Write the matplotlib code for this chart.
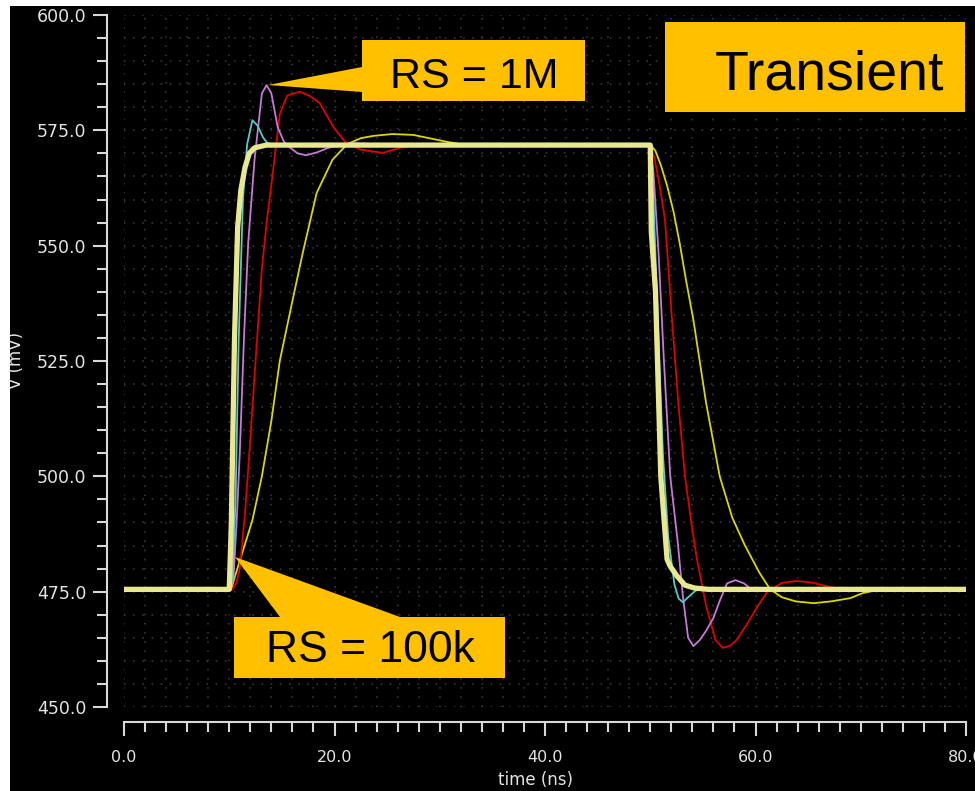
import matplotlib
matplotlib.use('Agg')
import matplotlib.pyplot as plt
from matplotlib.patches import Polygon, Rectangle
from matplotlib.ticker import MultipleLocator, FormatStrFormatter

# ideal / thick trace
t_ideal = [0, 10.0, 10.2, 10.5, 10.8, 11.1, 11.5, 11.9, 12.4, 13.5, 50.0, 50.1, 50.5, 51.0,
           51.6, 51.9, 52.5, 53.3, 54.2, 55.5, 80]
v_ideal = [475.5, 475.5, 490, 530, 554, 562, 567, 570, 571.2, 571.8, 571.8, 553, 540, 500,
           482, 480.5, 478.5, 476.4, 475.8, 475.5, 475.5]

# cyan
t_cyan = [0, 10.0, 10.3, 10.6, 10.9, 11.3, 11.7, 12.2, 12.7, 13.2, 13.6, 14.5, 15.5, 50.0,
          50.3, 50.7, 51.2, 51.7, 52.3, 52.7, 53.1, 53.6, 54.3, 55.2, 56.5, 80]
v_cyan = [475.5, 475.5, 478, 495, 530, 560, 572, 577.2, 576, 573.5, 572.3, 571.7, 572, 572,
          560, 535, 505, 487, 476.5, 473.5, 472.7, 473.8, 475.2, 475.8, 475.5, 475.5]

# magenta
t_mag = [0, 10.1, 10.4, 10.7, 11.0, 11.4, 11.8, 12.4, 13.1, 13.55, 14.0, 14.6, 15.2, 15.7,
         16.5, 17.3, 18.3, 19.4, 20.5, 22, 24, 50.0, 50.3, 50.8, 51.3, 51.9, 52.6, 53.1,
         53.6, 54.1, 54.7, 55.3, 56.0, 56.6, 57.3, 58.1, 58.9, 59.5, 60.5, 62, 80]
v_mag = [475.5, 475.5, 478, 490, 505, 530, 550.6, 568.6, 583, 584.8, 583, 575.7, 572.5, 571.4,
         570, 569.6, 570.2, 571.2, 571.9, 572.2, 572, 572, 566, 548, 525, 500, 486, 474,
         465, 463.2, 464.5, 466.5, 469.3, 473, 476.8, 477.5, 476.8, 475.7, 475.3, 475.5, 475.5]

# red
t_red = [0, 10.3, 10.7, 11.0, 11.5, 12.0, 12.5, 13.1, 13.6, 14.1, 14.8, 15.5, 16.7, 17.6,
         18.6, 19.9, 21.0, 22.5, 24.6, 26.2, 27.5, 50.0, 50.4, 50.9, 51.4, 52.07, 52.7, 53.3,
         53.9, 54.4, 55.3, 56.2, 56.9, 57.6, 58.2, 59.2, 60.2, 61.1, 62.5, 63.9, 65.3, 67.1,
         68.5, 80]
v_red = [475.5, 475.5, 477, 480, 492, 508, 525, 545, 556, 565, 578.5, 582.5, 583.4, 582.5,
         580.9, 575.7, 572.5, 570.8, 570.1, 571.2, 571.8, 572, 569, 563, 555.6, 533.9, 515, 500,
         490, 482.5, 472, 464.5, 462.8, 463.3, 464.5, 468, 471.8, 474.9, 476.9, 477.3, 477, 476,
         475.5, 475.5]

# yellow (slowest)
t_yel = [0, 10.2, 10.5, 12.2, 13.1, 14.0, 14.8, 16.0, 17.0, 18.3, 19.8, 21.2, 22.5, 23.7,
         25.5, 27.5, 29.0, 30.7, 32.0, 50.0, 50.5, 51.0, 51.6, 52.2, 52.8, 53.4, 54.1, 55.3,
         56.6, 57.8, 59.0, 60.4, 61.4, 62.5, 63.8, 65.5, 67.2, 69.0, 70.2, 71.7, 80]
v_yel = [475.5, 475.5, 478, 490.5, 500, 512, 525, 538, 548.6, 561.4, 568.6, 572, 573.3, 573.8,
         574.2, 574, 573.3, 572.5, 572, 572, 570.5, 567.5, 563, 557.5, 550.5, 542.5, 533.9, 516,
         500, 491, 485, 479, 475.5, 473.8, 472.9, 472.5, 472.9, 473.6, 474.7, 475.4, 475.5]

x_ticks = [0, 20, 40, 60, 80]
y_ticks = [450, 475, 500, 525, 550, 575, 600]

W, H = 975, 791
fig = plt.figure(figsize=(W / 100, H / 100), dpi=100, facecolor='black')
ax = fig.add_axes([124 / W, 1 - 707 / H, (966 - 124) / W, (707 - 15) / H])
ax.set_facecolor('black')

ax.plot(t_yel, v_yel, color='#d8d800', lw=1.3, zorder=3)
ax.plot(t_red, v_red, color='#e00000', lw=1.3, zorder=3)
ax.plot(t_mag, v_mag, color='#c878d8', lw=1.3, zorder=3)
ax.plot(t_cyan, v_cyan, color='#5cc8c8', lw=1.3, zorder=3)
ax.plot(t_ideal, v_ideal, color='#e8e890', lw=3.8, zorder=4)

ax.set_xlim(0, 80)
ax.set_ylim(450, 600)
ax.set_xticks(x_ticks)
ax.set_yticks(y_ticks)
ax.xaxis.set_minor_locator(MultipleLocator(2))
ax.yaxis.set_minor_locator(MultipleLocator(5))
ax.xaxis.set_major_formatter(FormatStrFormatter('%.1f'))
ax.yaxis.set_major_formatter(FormatStrFormatter('%.1f'))

ax.grid(which='both', color='#3e3e3e', linestyle=(0, (1, 5)), lw=1.1, zorder=1)

for s in ['top', 'right']:
    ax.spines[s].set_visible(False)
ax.spines['left'].set_position(('outward', 12))
ax.spines['bottom'].set_position(('outward', 11))
for s in ['left', 'bottom']:
    ax.spines[s].set_color('#d8d8d8')
    ax.spines[s].set_linewidth(1.5)

ax.tick_params(axis='y', which='major', length=10, width=1.5, color='#d8d8d8',
               labelcolor='#e4e4e4', labelsize=12.5, pad=5)
ax.tick_params(axis='y', which='minor', length=7, width=1.5, color='#d8d8d8')
ax.tick_params(axis='x', which='major', length=10, width=1.5, color='#d8d8d8',
               labelcolor='#e4e4e4', labelsize=11.5, pad=10)
ax.tick_params(axis='x', which='minor', length=7, width=1.5, color='#d8d8d8')

fig.text(536 / W, 1 - 780 / H, 'time (ns)', color='#e4e4e4', fontsize=12,
         ha='center', va='center')
fig.text(16 / W, 1 - 360 / H, 'V (mV)', color='#e4e4e4', fontsize=12,
         rotation=90, ha='center', va='center')


def px(pts):
    return [(x / W, 1 - y / H) for x, y in pts]


orange = '#ffc000'
call_1m = [(362, 40), (585, 40), (585, 101), (362, 101), (362, 92), (268, 85), (362, 67)]
call_100k = [(234, 617), (280, 617), (235, 557), (400, 617), (505, 617), (505, 678), (234, 678)]
box_tr = [(665, 22), (965, 22), (965, 112), (665, 112)]
for shape in [call_1m, call_100k, box_tr]:
    fig.add_artist(Polygon(px(shape), closed=True, facecolor=orange, edgecolor='none',
                           transform=fig.transFigure, zorder=5))

fnt = 'Liberation Sans'
fig.text(474 / W, 1 - 88 / H, 'RS = 1M', fontsize=31, family=fnt, color='black',
         ha='center', va='baseline', zorder=6)
fig.text(370 / W, 1 - 662 / H, 'RS = 100k', fontsize=32, family=fnt, color='black',
         ha='center', va='baseline', zorder=6)
fig.text(829 / W, 1 - 90 / H, 'Transient', fontsize=40, family=fnt, color='black',
         ha='center', va='baseline', zorder=6)

# white strips at top and left edge
fig.add_artist(Rectangle((0, 1 - 6 / H), 1, 6 / H, transform=fig.transFigure,
                         facecolor='white', edgecolor='none', zorder=10))
fig.add_artist(Rectangle((0, 0), 10 / W, 1, transform=fig.transFigure,
                         facecolor='white', edgecolor='none', zorder=10))

fig.savefig('out.png', dpi=100, facecolor='black')
